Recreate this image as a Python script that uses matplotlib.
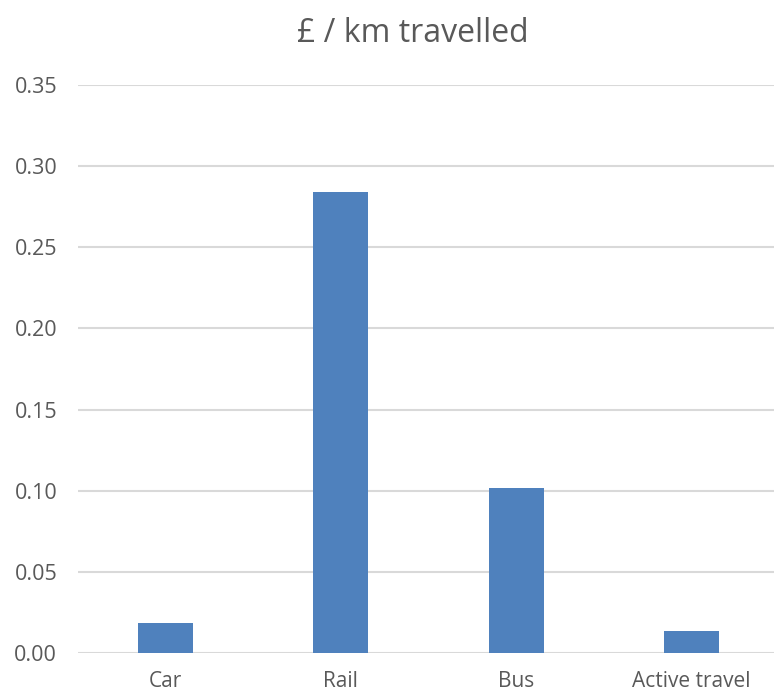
import matplotlib.pyplot as plt

# values
categorias = ["Car", "Rail", "Bus", "Active travel"]
coste_km = [0.0181, 0.2842, 0.1016, 0.0134]
ticks_y = [0.00, 0.05, 0.10, 0.15, 0.20, 0.25, 0.30, 0.35]

plt.rcParams["font.family"] = ["Open Sans", "DejaVu Sans"]
texto = "#595959"

fig = plt.figure(figsize=(7.74, 6.93), dpi=100)
# right edge goes a bit past the figure, gridlines run to the border like the original
ax = fig.add_axes([78 / 774, 1 - 652.7 / 693, 701 / 774, (652.7 - 85.3) / 693])

x = range(len(categorias))
ax.bar(x, coste_km, width=0.313, color="#4F81BD", zorder=3)

ax.set_xlim(-0.5, 3.5)
ax.set_ylim(0, 0.35)
ax.set_yticks(ticks_y)
ax.set_yticklabels([f"{v:.2f}" for v in ticks_y])
ax.set_xticks(list(x))
ax.set_xticklabels(categorias)

ax.grid(axis="y", color="#D9D9D9", linewidth=1.5, zorder=0)
for lado in ["top", "right", "left", "bottom"]:
    ax.spines[lado].set_visible(False)
ax.tick_params(axis="both", length=0, labelcolor=texto)
ax.tick_params(axis="y", labelsize=15.5, pad=15)
ax.tick_params(axis="x", labelsize=15, pad=13)

fig.text(413 / 774, 1 - 33 / 693, "£ / km travelled", ha="center", va="center",
         fontsize=23, color=texto)

fig.savefig("out.png", dpi=100)
